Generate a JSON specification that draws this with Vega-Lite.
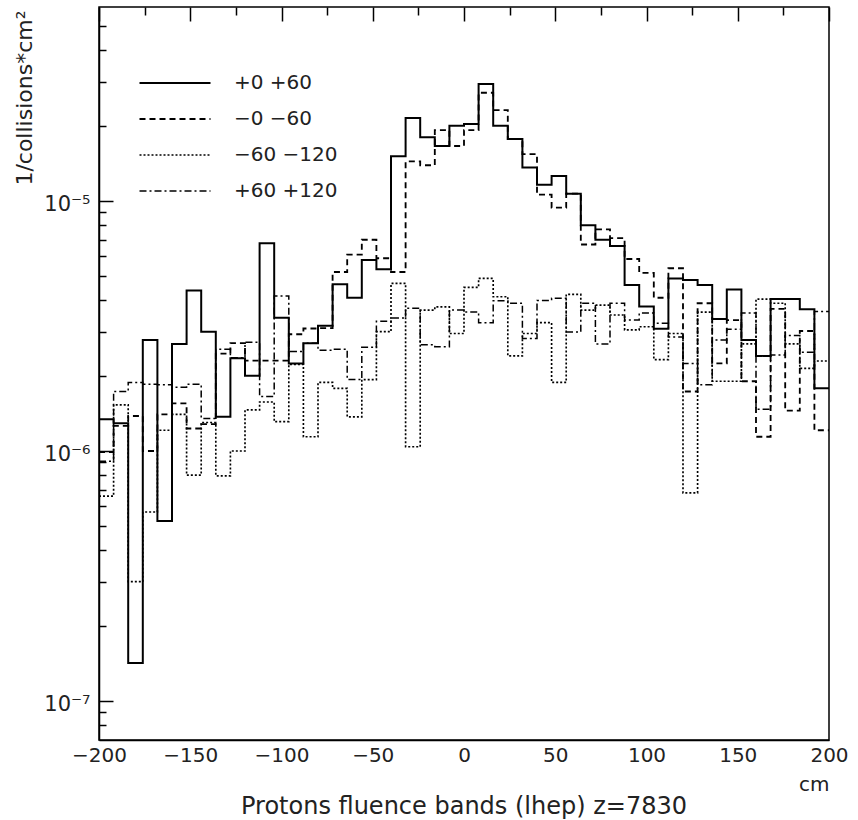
{
  "$schema": "https://vega.github.io/schema/vega-lite/v6.json",
  "width": 730,
  "height": 733,
  "autosize": {"type": "none"},
  "padding": {"left": 99, "top": 7, "right": 29, "bottom": 80},
  "background": "white",
  "config": {
    "view": {"stroke": "#000", "strokeWidth": 1.5},
    "font": "DejaVu Sans",
    "legend": {
      "orient": "none",
      "legendX": 50,
      "legendY": 50,
      "title": null,
      "symbolType": "M-1.42,0L1.42,0",
      "symbolSize": 2500,
      "symbolStrokeColor": "#000",
      "labelFont": "DejaVu Sans",
      "labelFontSize": 20,
      "labelColor": "#222",
      "labelOffset": 33,
      "rowPadding": 0,
      "padding": 0
    }
  },
  "title": {
    "text": "Protons fluence bands (lhep) z=7830",
    "orient": "bottom",
    "anchor": "middle",
    "frame": "group",
    "font": "DejaVu Sans",
    "fontSize": 24,
    "fontWeight": "normal",
    "color": "#222",
    "offset": 1
  },
  "data": {
    "values": [
      {"x": -200, "+0 +60": 1.34e-6, "−0 −60": 9.9e-7, "−60 −120": 6.6e-7, "+60 +120": 9.1e-7},
      {"x": -192, "+0 +60": 1.29e-6, "−0 −60": 1.26e-6, "−60 −120": 1.53e-6, "+60 +120": 1.73e-6},
      {"x": -184, "+0 +60": 1.42e-7, "−0 −60": 1.38e-6, "−60 −120": 3.0e-7, "+60 +120": 1.88e-6},
      {"x": -176, "+0 +60": 2.78e-6, "−0 −60": 1.0e-6, "−60 −120": 5.7e-7, "+60 +120": 1.85e-6},
      {"x": -168, "+0 +60": 5.25e-7, "−0 −60": 1.4e-6, "−60 −120": 1.21e-6, "+60 +120": 1.84e-6},
      {"x": -160, "+0 +60": 2.68e-6, "−0 −60": 1.55e-6, "−60 −120": 1.4e-6, "+60 +120": 1.8e-6},
      {"x": -152, "+0 +60": 4.38e-6, "−0 −60": 1.23e-6, "−60 −120": 8.0e-7, "+60 +120": 1.85e-6},
      {"x": -144, "+0 +60": 3.0e-6, "−0 −60": 1.28e-6, "−60 −120": 1.3e-6, "+60 +120": 1.35e-6},
      {"x": -136, "+0 +60": 1.37e-6, "−0 −60": 2.45e-6, "−60 −120": 7.95e-7, "+60 +120": 2.55e-6},
      {"x": -128, "+0 +60": 2.35e-6, "−0 −60": 2.7e-6, "−60 −120": 1.0e-6, "+60 +120": 2.36e-6},
      {"x": -120, "+0 +60": 2.0e-6, "−0 −60": 2.3e-6, "−60 −120": 1.46e-6, "+60 +120": 2.72e-6},
      {"x": -112, "+0 +60": 6.77e-6, "−0 −60": 2.3e-6, "−60 −120": 1.57e-6, "+60 +120": 1.65e-6},
      {"x": -104, "+0 +60": 3.41e-6, "−0 −60": 2.3e-6, "−60 −120": 1.31e-6, "+60 +120": 4.17e-6},
      {"x": -96, "+0 +60": 2.24e-6, "−0 −60": 2.93e-6, "−60 −120": 2.22e-6, "+60 +120": 2.5e-6},
      {"x": -88, "+0 +60": 2.7e-6, "−0 −60": 3.09e-6, "−60 −120": 1.14e-6, "+60 +120": 2.7e-6},
      {"x": -80, "+0 +60": 3.17e-6, "−0 −60": 3.1e-6, "−60 −120": 1.88e-6, "+60 +120": 2.53e-6},
      {"x": -72, "+0 +60": 4.64e-6, "−0 −60": 5.2e-6, "−60 −120": 1.78e-6, "+60 +120": 2.55e-6},
      {"x": -64, "+0 +60": 4.1e-6, "−0 −60": 6.1e-6, "−60 −120": 1.37e-6, "+60 +120": 1.93e-6},
      {"x": -56, "+0 +60": 5.81e-6, "−0 −60": 7.0e-6, "−60 −120": 1.93e-6, "+60 +120": 2.6e-6},
      {"x": -48, "+0 +60": 5.33e-6, "−0 −60": 5.9e-6, "−60 −120": 3.0e-6, "+60 +120": 3.3e-6},
      {"x": -40, "+0 +60": 1.51e-5, "−0 −60": 5.2e-6, "−60 −120": 4.68e-6, "+60 +120": 3.4e-6},
      {"x": -32, "+0 +60": 2.15e-5, "−0 −60": 1.44e-5, "−60 −120": 1.04e-6, "+60 +120": 3.72e-6},
      {"x": -24, "+0 +60": 1.8e-5, "−0 −60": 1.39e-5, "−60 −120": 3.66e-6, "+60 +120": 2.66e-6},
      {"x": -16, "+0 +60": 1.66e-5, "−0 −60": 1.92e-5, "−60 −120": 3.77e-6, "+60 +120": 2.61e-6},
      {"x": -8, "+0 +60": 2.0e-5, "−0 −60": 1.66e-5, "−60 −120": 2.95e-6, "+60 +120": 3.66e-6},
      {"x": 0, "+0 +60": 2.03e-5, "−0 −60": 1.92e-5, "−60 −120": 4.51e-6, "+60 +120": 3.6e-6},
      {"x": 8, "+0 +60": 2.94e-5, "−0 −60": 2.71e-5, "−60 −120": 4.9e-6, "+60 +120": 3.26e-6},
      {"x": 16, "+0 +60": 2.0e-5, "−0 −60": 2.31e-5, "−60 −120": 4.14e-6, "+60 +120": 3.99e-6},
      {"x": 24, "+0 +60": 1.77e-5, "−0 −60": 1.77e-5, "−60 −120": 2.4e-6, "+60 +120": 3.9e-6},
      {"x": 32, "+0 +60": 1.36e-5, "−0 −60": 1.54e-5, "−60 −120": 2.95e-6, "+60 +120": 2.82e-6},
      {"x": 40, "+0 +60": 1.16e-5, "−0 −60": 1.06e-5, "−60 −120": 3.26e-6, "+60 +120": 4.0e-6},
      {"x": 48, "+0 +60": 1.26e-5, "−0 −60": 9.4e-6, "−60 −120": 1.88e-6, "+60 +120": 4.08e-6},
      {"x": 56, "+0 +60": 1.07e-5, "−0 −60": 1.07e-5, "−60 −120": 4.23e-6, "+60 +120": 2.99e-6},
      {"x": 64, "+0 +60": 8.0e-6, "−0 −60": 6.7e-6, "−60 −120": 3.66e-6, "+60 +120": 3.9e-6},
      {"x": 72, "+0 +60": 7.0e-6, "−0 −60": 7.7e-6, "−60 −120": 3.83e-6, "+60 +120": 2.68e-6},
      {"x": 80, "+0 +60": 6.6e-6, "−0 −60": 7.1e-6, "−60 −120": 3.5e-6, "+60 +120": 3.9e-6},
      {"x": 88, "+0 +60": 4.61e-6, "−0 −60": 5.86e-6, "−60 −120": 3.05e-6, "+60 +120": 3.34e-6},
      {"x": 96, "+0 +60": 3.78e-6, "−0 −60": 5.16e-6, "−60 −120": 3.14e-6, "+60 +120": 3.56e-6},
      {"x": 104, "+0 +60": 3.08e-6, "−0 −60": 4.1e-6, "−60 −120": 2.32e-6, "+60 +120": 3.24e-6},
      {"x": 112, "+0 +60": 4.9e-6, "−0 −60": 5.38e-6, "−60 −120": 2.95e-6, "+60 +120": 2.86e-6},
      {"x": 120, "+0 +60": 4.83e-6, "−0 −60": 1.73e-6, "−60 −120": 6.8e-7, "+60 +120": 2.24e-6},
      {"x": 128, "+0 +60": 4.61e-6, "−0 −60": 3.9e-6, "−60 −120": 3.59e-6, "+60 +120": 1.84e-6},
      {"x": 136, "+0 +60": 3.37e-6, "−0 −60": 2.24e-6, "−60 −120": 1.9e-6, "+60 +120": 2.78e-6},
      {"x": 144, "+0 +60": 4.43e-6, "−0 −60": 3.34e-6, "−60 −120": 1.9e-6, "+60 +120": 3.07e-6},
      {"x": 152, "+0 +60": 2.78e-6, "−0 −60": 1.9e-6, "−60 −120": 2.68e-6, "+60 +120": 3.56e-6},
      {"x": 160, "+0 +60": 2.4e-6, "−0 −60": 1.14e-6, "−60 −120": 4.05e-6, "+60 +120": 1.47e-6},
      {"x": 168, "+0 +60": 4.05e-6, "−0 −60": 3.7e-6, "−60 −120": 3.9e-6, "+60 +120": 2.42e-6},
      {"x": 176, "+0 +60": 4.05e-6, "−0 −60": 1.45e-6, "−60 −120": 2.68e-6, "+60 +120": 2.9e-6},
      {"x": 184, "+0 +60": 3.69e-6, "−0 −60": 3.02e-6, "−60 −120": 2.14e-6, "+60 +120": 2.48e-6},
      {"x": 192, "+0 +60": 1.78e-6, "−0 −60": 1.21e-6, "−60 −120": 2.29e-6, "+60 +120": 3.61e-6},
      {"x": 200, "+0 +60": 1.78e-6, "−0 −60": 1.21e-6, "−60 −120": 2.29e-6, "+60 +120": 3.61e-6}
    ]
  },
  "transform": [
    {"fold": ["+0 +60", "−0 −60", "−60 −120", "+60 +120"], "as": ["s", "v"]}
  ],
  "mark": {"type": "line", "interpolate": "step-after", "color": "#000", "clip": true},
  "encoding": {
    "x": {
      "field": "x",
      "type": "quantitative",
      "scale": {"domain": [-200, 200], "nice": false, "zero": false},
      "axis": {
        "orient": "bottom",
        "title": "cm",
        "values": [-200, -175, -150, -125, -100, -75, -50, -25, 0, 25, 50, 75, 100, 125, 150, 175, 200],
        "labelExpr": "datum.value % 50 === 0 ? datum.label : ''",
        "labelFlush": false,
        "labelOverlap": false,
        "ticks": false,
        "grid": true,
        "gridColor": "#000",
        "gridOpacity": 1,
        "gridWidth": 1.5,
        "gridDash": {"condition": {"test": "datum.value % 50 === 0", "value": [14, 3000]}, "value": [8, 3000]},
        "domainColor": "#000",
        "domainWidth": 1.5,
        "labelPadding": 5,
        "labelFont": "DejaVu Sans",
        "labelFontSize": 20,
        "labelColor": "#222",
        "titleFont": "DejaVu Sans",
        "titleFontSize": 20,
        "titleFontWeight": "normal",
        "titleColor": "#222",
        "titleAnchor": "end",
        "titleAlign": "right",
        "titleBaseline": "alphabetic",
        "titleX": 730,
        "titleY": 50
      }
    },
    "y": {
      "field": "v",
      "type": "quantitative",
      "scale": {"type": "log", "domain": [6.98e-8, 5.97e-5], "nice": false},
      "axis": {
        "orient": "left",
        "title": "1/collisions*cm²",
        "values": [8e-8, 9e-8, 1e-7, 2e-7, 3e-7, 4e-7, 5e-7, 6e-7, 7e-7, 8e-7, 9e-7, 1e-6, 2e-6, 3e-6, 4e-6, 5e-6, 6e-6, 7e-6, 8e-6, 9e-6, 1e-5, 2e-5, 3e-5, 4e-5, 5e-5],
        "labelExpr": "datum.value === 1e-7 ? '10⁻⁷' : datum.value === 1e-6 ? '10⁻⁶' : datum.value === 1e-5 ? '10⁻⁵' : ''",
        "labelOverlap": false,
        "labelFlush": false,
        "ticks": false,
        "grid": true,
        "gridColor": "#000",
        "gridOpacity": 1,
        "gridWidth": 1.5,
        "gridDash": {"condition": {"test": "datum.value === 1e-7 || datum.value === 1e-6 || datum.value === 1e-5", "value": [14, 3000]}, "value": [7, 3000]},
        "domainColor": "#000",
        "domainWidth": 1.5,
        "labelPadding": 9,
        "labelOffset": 4,
        "labelFont": "DejaVu Sans",
        "labelFontSize": 21,
        "labelColor": "#222",
        "labelBaseline": "middle",
        "titleFont": "DejaVu Sans",
        "titleFontSize": 22,
        "titleFontWeight": "normal",
        "titleColor": "#222",
        "titleAngle": -90,
        "titleAnchor": "end",
        "titleAlign": "right",
        "titleBaseline": "middle",
        "titleX": -75,
        "titleY": 3
      }
    },
    "strokeDash": {
      "field": "s",
      "type": "nominal",
      "scale": {"domain": ["+0 +60", "−0 −60", "−60 −120", "+60 +120"], "range": [[1, 0], [6, 4], [2, 2], [7, 3, 2, 3]]},
      "legend": {"title": null, "symbolType": "M-1.42,0L1.42,0", "symbolSize": 2500}
    },
    "strokeWidth": {
      "field": "s",
      "type": "nominal",
      "scale": {"domain": ["+0 +60", "−0 −60", "−60 −120", "+60 +120"], "range": [2, 1.5, 1.5, 1.5]},
      "legend": {"title": null, "symbolType": "M-1.42,0L1.42,0", "symbolSize": 2500}
    }
  }
}
